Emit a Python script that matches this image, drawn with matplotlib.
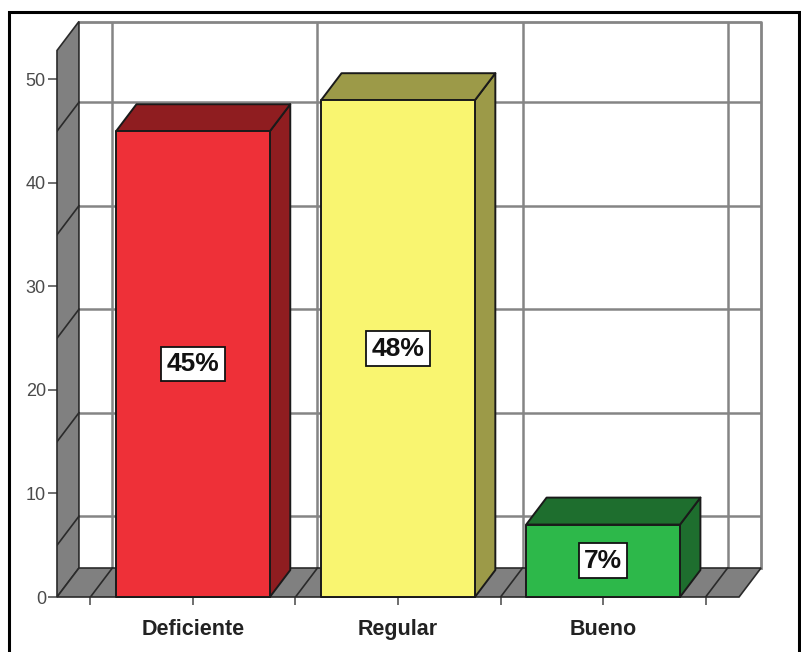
import matplotlib.pyplot as plt
from matplotlib.patches import Polygon, Rectangle

plt.rcParams['font.family'] = ['Liberation Sans', 'DejaVu Sans']

# datos
categories = ['Deficiente', 'Regular', 'Bueno']
values = [45, 48, 7]
pct_labels = ['45%', '48%', '7%']
face_colors = ['#ee3038', '#f9f570', '#2db84a']
shade_colors = ['#8f1d20', '#9c9a48', '#1e6e2e']
y_ticks = [0, 10, 20, 30, 40, 50]
grid_levels = [5, 15, 25, 35, 45]

# geometria del grafico 3D
x0, x1 = -0.663, 2.663
ytop = 52.8
ddx, ddy = 0.107, 2.8
bar_w = 0.75
bar_depth = 0.93
bounds = [i - 0.5 for i in range(len(categories) + 1)]
grid_c = '#858585'
wall_c = '#808080'
edge_c = '#2a2a2a'

fig = plt.figure(figsize=(8.01, 6.52), dpi=100)
ax = fig.add_axes([57 / 801, 55 / 652, 704 / 801, 575.5 / 652])
ax.set_xlim(x0, x1 + ddx)
ax.set_ylim(0, ytop + ddy)
for s in ax.spines.values():
    s.set_visible(False)

# pared del fondo
ax.plot([x0 + ddx, x1 + ddx, x1 + ddx], [ytop + ddy, ytop + ddy, ddy],
        color=grid_c, lw=2, zorder=1, clip_on=False)
for v in grid_levels:
    ax.plot([x0 + ddx, x1 + ddx], [v + ddy, v + ddy], color=grid_c, lw=1.8, zorder=1)
for b in bounds:
    ax.plot([b + ddx, b + ddx], [ddy, ytop + ddy], color=grid_c, lw=1.8, zorder=1)

# pared izquierda
ax.add_patch(Polygon([(x0, 0), (x0 + ddx, ddy), (x0 + ddx, ytop + ddy), (x0, ytop)],
                     closed=True, fc=wall_c, ec=edge_c, lw=1.2, zorder=2, clip_on=False))
for v in grid_levels:
    ax.plot([x0, x0 + ddx], [v, v + ddy], color=edge_c, lw=1.2, zorder=3)

# piso
ax.add_patch(Polygon([(x0, 0), (x1, 0), (x1 + ddx, ddy), (x0 + ddx, ddy)],
                     closed=True, fc=wall_c, ec=edge_c, lw=1.2, zorder=2, clip_on=False))
for b in bounds:
    ax.plot([b, b + ddx], [0, ddy], color=edge_c, lw=1.2, zorder=3)

# barras
bdx, bdy = ddx * bar_depth, ddy * bar_depth
for i, v in enumerate(values):
    xl, xr = i - bar_w / 2, i + bar_w / 2
    top = [(xl, v), (xr, v), (xr + bdx, v + bdy), (xl + bdx, v + bdy)]
    side = [(xr, 0), (xr + bdx, bdy), (xr + bdx, v + bdy), (xr, v)]
    front = [(xl, 0), (xr, 0), (xr, v), (xl, v)]
    for pts, fc in [(side, shade_colors[i]), (top, shade_colors[i]), (front, face_colors[i])]:
        ax.add_patch(Polygon(pts, closed=True, fc=fc, ec='#1a1a1a', lw=1.4,
                             joinstyle='round', zorder=5, clip_on=False))
    ax.text(i, v / 2, pct_labels[i], ha='center', va='center', fontsize=19,
            fontweight='bold', color='#111111', zorder=10,
            bbox=dict(boxstyle='square,pad=0.2', fc='white', ec='#111111', lw=1.3))

# ejes
ax.set_yticks(y_ticks)
ax.tick_params(axis='y', length=6.5, width=1.2, color='#555555',
               labelcolor='#4a4a4a', labelsize=13, pad=1.5)
ax.set_xticks(range(len(categories)))
ax.set_xticklabels(categories, fontweight='bold', fontsize=15.5, color='#222222')
ax.set_xticks(bounds, minor=True)
ax.tick_params(axis='x', which='both', length=5.5, width=1.2, color='#555555', pad=10)

# marco exterior
fig.add_artist(Rectangle((8.5 / 801, -0.05), (799 - 8.5) / 801, 1.05 - 12 / 652,
                         transform=fig.transFigure, fill=False, ec='black', lw=2.2))

fig.savefig('out.png', dpi=100)
